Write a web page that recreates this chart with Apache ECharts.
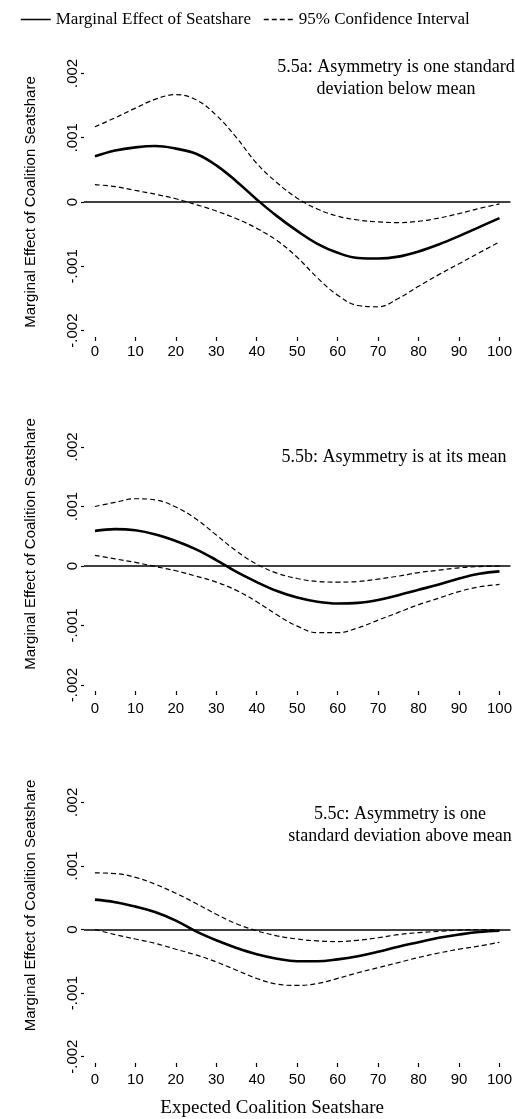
<!DOCTYPE html>
<html>
<head>
<meta charset="utf-8">
<script src="https://cdn.jsdelivr.net/npm/echarts@6/dist/echarts.min.js"></script>
<style>
html,body{margin:0;padding:0;background:#fff;}
#chart{width:515px;height:1119px;}
</style>
</head>
<body>
<div id="chart"></div>
<script>
// ---- data ----
const seatshare = [0,5,10,15,20,25,30,35,40,45,50,55,60,65,70,75,80,85,90,95,100];
const xTicks = [0,10,20,30,40,50,60,70,80,90,100];
const yTicks = [-0.002,-0.001,0,0.001,0.002];
const yTickLabels = ['-.002','-.001','0','.001','.002'];

const panelTitles = [
  '5.5a: Asymmetry is one standard\ndeviation below mean',
  '5.5b: Asymmetry is at its mean',
  '5.5c: Asymmetry is one\nstandard deviation above mean'
];

// 5.5a
const aEffect = [0.00071,0.00080,0.00085,0.00087,0.00083,0.00075,0.00057,0.00032,0.00004,-0.00022,-0.00045,-0.00065,-0.00079,-0.00087,-0.00088,-0.00085,-0.00077,-0.00066,-0.00053,-0.00039,-0.00025];
const aUpper  = [0.00117,0.00131,0.00146,0.00160,0.00167,0.00159,0.00135,0.00100,0.00060,0.00030,0.00006,-0.00011,-0.00022,-0.00028,-0.00031,-0.00032,-0.00030,-0.00025,-0.00018,-0.00010,-0.00003];
const aLower  = [0.00027,0.00024,0.00018,0.00012,0.00005,-0.00004,-0.00014,-0.00026,-0.00041,-0.00060,-0.00086,-0.00118,-0.00145,-0.00161,-0.00163,-0.00150,-0.00131,-0.00113,-0.00096,-0.00079,-0.00062];
// 5.5b
const bEffect = [0.00059,0.00062,0.00060,0.00053,0.00042,0.00028,0.00010,-0.00010,-0.00027,-0.00042,-0.00053,-0.00060,-0.00063,-0.00062,-0.00057,-0.00049,-0.00040,-0.00031,-0.00021,-0.00013,-0.00009];
const bUpper  = [0.00100,0.00107,0.00113,0.00111,0.00099,0.00079,0.00052,0.00025,0.00003,-0.00012,-0.00021,-0.00026,-0.00027,-0.00026,-0.00022,-0.00017,-0.00011,-0.00007,-0.00003,-0.00001,0.00000];
const bLower  = [0.00018,0.00012,0.00006,-0.00001,-0.00008,-0.00017,-0.00027,-0.00041,-0.00060,-0.00082,-0.00101,-0.00112,-0.00112,-0.00104,-0.00091,-0.00078,-0.00065,-0.00054,-0.00043,-0.00035,-0.00031];
// 5.5c
const cEffect = [0.00047,0.00043,0.00036,0.00027,0.00014,-0.00003,-0.00017,-0.00029,-0.00039,-0.00046,-0.00050,-0.00050,-0.00047,-0.00042,-0.00035,-0.00027,-0.00020,-0.00013,-0.00008,-0.00004,-0.00002];
const cUpper  = [0.00089,0.00088,0.00082,0.00071,0.00057,0.00041,0.00024,0.00009,-0.00002,-0.00010,-0.00015,-0.00018,-0.00019,-0.00017,-0.00013,-0.00008,-0.00005,-0.00003,-0.00001,0.00000,-0.00001];
const cLower  = [0.00000,-0.00008,-0.00015,-0.00022,-0.00031,-0.00040,-0.00051,-0.00064,-0.00077,-0.00086,-0.00088,-0.00085,-0.00077,-0.00068,-0.00060,-0.00052,-0.00044,-0.00037,-0.00031,-0.00026,-0.00020];

const effectName = 'Marginal Effect of Seatshare';
const ciName = '95% Confidence Interval';
const yTitle = 'Marginal Effect of Coalition Seatshare';
const xTitle = 'Expected Coalition Seatshare';

// ---- layout ----
const grids = [
  {left:84, right:2, top:67, height:270},
  {left:84, right:2, top:441, height:250},
  {left:84, right:2, top:796, height:267}
];
const labelMargins = [7, 10, 9];
const titlePos = [{left:391, top:51},{left:389, top:441},{left:395, top:798}];
const yNamePad = [[0,0,0,0],[0,0,0,44],[0,0,0,48]];

const panels = [
  [aEffect, aUpper, aLower],
  [bEffect, bUpper, bLower],
  [cEffect, cUpper, cLower]
];

const pair = arr => seatshare.map((x,i)=>[x, arr[i]]);

const xAxes = [], yAxes = [], series = [], titles = [];
panels.forEach((p, g) => {
  xAxes.push({
    gridIndex:g, type:'value', min:-2.7, max:102.7,
    axisLine:{show:false, onZero:false}, splitLine:{show:false},
    axisTick:{show:true, customValues:xTicks, length:4, lineStyle:{color:'#000', width:1.2}},
    axisLabel:{customValues:xTicks, margin:labelMargins[g], color:'#000', fontSize:15, fontFamily:'Liberation Sans, Arial, sans-serif'},
    name: g === 2 ? xTitle : '',
    nameLocation:'middle', nameGap:36,
    nameTextStyle:{color:'#000', fontSize:19, fontFamily:'Liberation Serif, Times New Roman, serif', padding:[0,50,0,0]}
  });
  yAxes.push({
    gridIndex:g, type:'value', min:-0.0021, max:0.0021,
    axisLine:{show:false, onZero:false}, splitLine:{show:false},
    axisTick:{show:true, customValues:yTicks, length:3, lineStyle:{color:'#000', width:1.2}},
    axisLabel:{customValues:yTicks, rotate:90, margin:4, color:'#000', fontSize:15, fontFamily:'Liberation Sans, Arial, sans-serif',
      formatter: v => yTickLabels[Math.round(v*1000)+2]},
    name: yTitle, nameLocation:'middle', nameRotate:90, nameGap:46,
    nameTextStyle:{color:'#000', fontSize:15, fontFamily:'Liberation Sans, Arial, sans-serif', padding:yNamePad[g]}
  });
  titles.push({
    text: panelTitles[g], left: titlePos[g].left, top: titlePos[g].top, textAlign:'center',
    textStyle:{color:'#000', fontSize:18, fontWeight:'normal', fontFamily:'Liberation Serif, Times New Roman, serif', lineHeight:22}
  });
  series.push({
    name: effectName, type:'line', xAxisIndex:g, yAxisIndex:g, data: pair(p[0]),
    smooth:0.4, showSymbol:false, symbol:'none', z:3,
    lineStyle:{color:'#000', width:2.6, type:'solid'}, itemStyle:{color:'#000'},
    markLine:{silent:true, symbol:'none', label:{show:false}, animation:false,
      lineStyle:{color:'#000', width:1.5, type:'solid'}, data:[{yAxis:0}]}
  });
  [p[1], p[2]].forEach(arr => series.push({
    name: ciName, type:'line', xAxisIndex:g, yAxisIndex:g, data: pair(arr),
    smooth:0.4, showSymbol:false, symbol:'none', z:2,
    lineStyle:{color:'#000', width:1.2, type:[5,3]}, itemStyle:{color:'#000'}
  }));
});

const chart = echarts.init(document.getElementById('chart'), null, {renderer:'canvas'});
chart.setOption({
  animation:false,
  backgroundColor:'#fff',
  title: titles,
  legend:{
    data:[effectName, ciName], left:15, top:6, itemWidth:30, itemHeight:12, itemGap:12,
    itemStyle:{opacity:0},
    lineStyle:{width:1.5},
    textStyle:{color:'#000', fontSize:17, fontFamily:'Liberation Serif, Times New Roman, serif'}
  },
  grid: grids,
  xAxis: xAxes,
  yAxis: yAxes,
  series: series
});
</script>
</body>
</html>
